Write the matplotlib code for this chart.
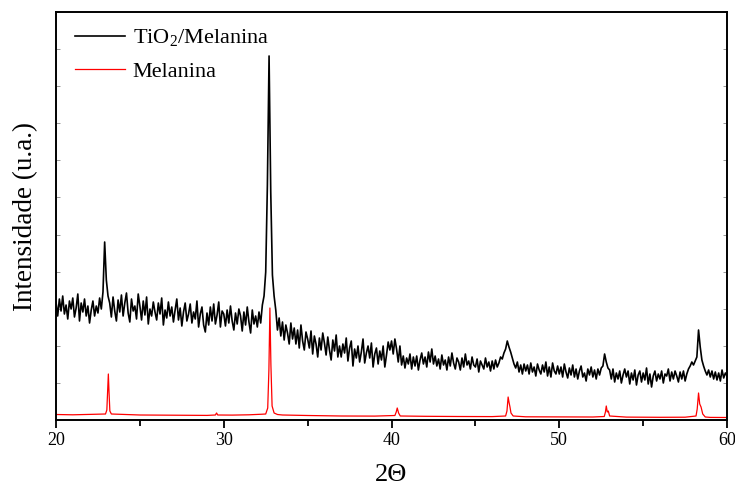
import numpy as np
import matplotlib
matplotlib.use("Agg")
import matplotlib.pyplot as plt
from matplotlib.ticker import MultipleLocator

plt.rcParams['font.family'] = ['Liberation Serif', 'DejaVu Serif']
plt.rcParams['mathtext.fontset'] = 'custom'
plt.rcParams['mathtext.rm'] = 'Liberation Serif'

# TiO2/Melanina pattern, 2theta from 20 to 60 in 0.1 steps (intensity, a.u.)
TWO_THETA_START, TWO_THETA_STEP = 20.0, 0.1
TIO2_MEL = [
    118, 104, 121, 109, 124, 106, 115, 101, 119, 111,   # 20
    122, 103, 112, 126, 99, 117, 108, 121, 104, 114,    # 21
    97, 110, 119, 104, 114, 107, 122, 111, 128, 178,    # 22
    140, 124, 117, 103, 123, 109, 99, 120, 108, 125,    # 23
    104, 117, 127, 107, 98, 121, 109, 114, 101, 126,    # 24
    114, 100, 119, 105, 123, 96, 111, 104, 118, 108,    # 25
    100, 117, 106, 122, 95, 110, 102, 118, 104, 113,    # 26
    98, 110, 121, 100, 112, 94, 108, 117, 99, 106,      # 27
    116, 97, 108, 101, 119, 93, 106, 113, 95, 88,       # 28
    107, 95, 113, 99, 116, 96, 105, 118, 93, 109,       # 29
    106, 94, 110, 97, 114, 99, 90, 107, 96, 111,        # 30
    104, 89, 108, 95, 113, 98, 87, 110, 96, 104,        # 31
    93, 108, 97, 115, 124, 148, 235, 364, 228, 145,     # 32
    124, 110, 90, 102, 84, 98, 80, 95, 87, 76,          # 33
    97, 81, 92, 76, 90, 72, 95, 79, 70, 88,             # 34
    81, 72, 89, 66, 84, 76, 63, 82, 70, 87,             # 35
    77, 65, 83, 70, 60, 80, 69, 85, 63, 74,             # 36
    63, 76, 67, 82, 59, 72, 79, 54, 71, 62,             # 37
    74, 58, 68, 81, 57, 67, 74, 62, 77, 53,             # 38
    66, 72, 56, 69, 60, 74, 53, 65, 78, 70,             # 39
    79, 66, 81, 71, 58, 74, 55, 64, 52, 62,             # 40
    56, 66, 51, 63, 54, 64, 50, 60, 67, 56,             # 41
    63, 53, 68, 58, 71, 56, 64, 54, 61, 51,             # 42
    65, 55, 60, 50, 63, 54, 67, 57, 51, 62,             # 43
    58, 50, 62, 53, 66, 55, 59, 51, 63, 55,             # 44
    53, 61, 48, 59, 55, 51, 62, 53, 58, 49,             # 45
    59, 51, 60, 53, 57, 63, 61, 67, 71, 79,             # 46
    73, 68, 62, 56, 52, 58, 48, 55, 46, 56,             # 47
    49, 55, 46, 57, 48, 53, 44, 56, 50, 46,             # 48
    55, 48, 58, 44, 53, 43, 57, 49, 46, 54,             # 49
    46, 53, 43, 56, 48, 42, 52, 45, 55, 43,             # 50
    51, 41, 49, 54, 43, 47, 39, 51, 45, 53,             # 51
    43, 50, 41, 51, 45, 52, 54, 66, 58, 52,             # 52
    50, 41, 51, 38, 47, 41, 49, 37, 45, 51,             # 53
    43, 49, 36, 47, 40, 50, 35, 45, 49, 38,             # 54
    47, 40, 52, 36, 46, 33, 44, 49, 39, 46,             # 55
    41, 49, 37, 46, 44, 51, 39, 48, 41, 49,             # 56
    44, 38, 48, 41, 49, 39, 46, 51, 54, 58,             # 57
    55, 59, 63, 90, 73, 60, 54, 49, 45, 50,             # 58
    43, 49, 41, 48, 40, 47, 39, 50, 42, 47,             # 59
    44,                                                 # 60
]

# Melanina pattern (2theta, intensity)
MEL_X = [20.0, 21.0, 22.0, 22.95, 23.03, 23.08, 23.12, 23.16, 23.21, 23.3,
         25.0, 27.0, 29.0, 29.5, 29.57, 29.64, 30.5, 31.5, 32.3, 32.5,
         32.62, 32.69, 32.75, 32.81, 32.88, 33.0, 33.2, 33.5, 35.0, 37.0,
         39.0, 40.2, 40.28, 40.34, 40.42, 40.52, 42.0, 44.0, 46.0, 46.8,
         46.88, 46.95, 47.0, 47.06, 47.12, 47.25, 48.0, 50.0, 52.0, 52.68,
         52.75, 52.8, 52.86, 52.92, 53.0, 54.0, 56.0, 57.5, 58.15, 58.22,
         58.3, 58.37, 58.45, 58.55, 58.7, 59.0, 60.0]
MEL_Y = [5.5, 5.2, 5.6, 6.0, 10, 30, 46, 28, 9, 6,
         5.0, 4.8, 4.6, 5.0, 7.0, 5.0, 4.9, 5.2, 5.8, 6.0,
         12, 50, 112, 55, 14, 7, 5.5, 5.0, 4.5, 4.0,
         3.9, 4.5, 8, 12, 7, 4.0, 3.7, 3.5, 3.4, 4.0,
         9, 23, 18, 13, 7, 4.0, 3.2, 3.1, 3.0, 3.5,
         8, 14, 8, 9, 4.0, 2.9, 2.7, 2.8, 4.0, 11,
         27, 16, 13, 6, 3.0, 2.6, 2.5]

x_tio2 = TWO_THETA_START + TWO_THETA_STEP * np.arange(len(TIO2_MEL))

fig = plt.figure(figsize=(7.35, 4.86), dpi=100)
ax = fig.add_axes([0.0762, 0.1358, 0.9130, 0.8395])

ax.plot(x_tio2, TIO2_MEL, color='black', lw=1.2, label=r'TiO$_\mathregular{2}$/Melanina')
ax.plot(MEL_X, MEL_Y, color='red', lw=0.9, label='Melanina')

ax.set_xlim(20, 60)
ax.set_ylim(0, 408)
ax.xaxis.set_major_locator(MultipleLocator(10))
ax.xaxis.set_minor_locator(MultipleLocator(5))
ax.set_yticks(np.linspace(0, 408, 12))
ax.tick_params(axis='x', which='major', direction='out', length=6, width=1.3, labelsize=13, pad=2.5)
ax.tick_params(axis='x', which='minor', direction='out', length=4, width=1.3)
ax.tick_params(axis='y', direction='in', length=3, width=0.6, color='#888888',
               left=True, right=True, labelleft=False)
for s in ax.spines.values():
    s.set_linewidth(1.4)

ax.set_xlabel('2Θ', fontsize=19, labelpad=11)
ax.set_ylabel('Intensidade (u.a.)', fontsize=19.5, labelpad=13)

ax.legend(loc='upper left', bbox_to_anchor=(0.028, 0.962), frameon=False,
          fontsize=16, handlelength=2.25, handletextpad=0.36,
          labelspacing=0.55, borderpad=0, borderaxespad=0)

fig.savefig('out.png', dpi=100)
